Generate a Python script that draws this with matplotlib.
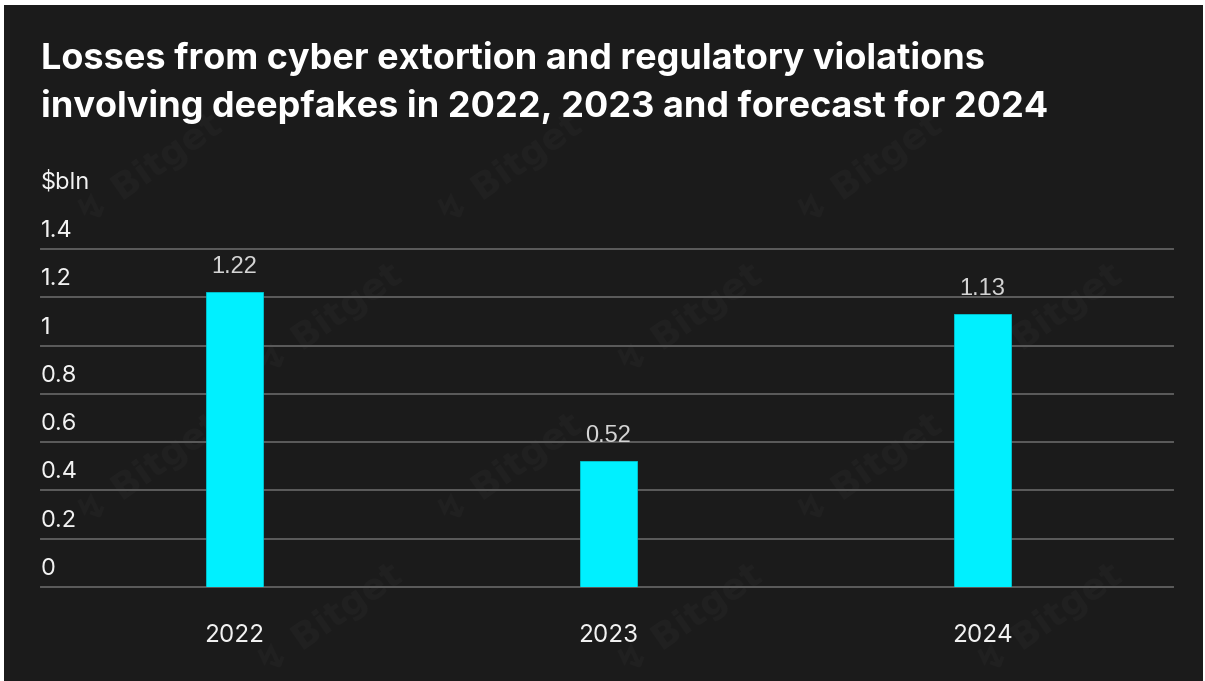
import matplotlib
matplotlib.use("Agg")
import matplotlib.pyplot as plt
from matplotlib.transforms import offset_copy

# Chart data
years = ["2022", "2023", "2024"]
losses_bln = [1.22, 0.52, 1.13]
value_labels = ["1.22", "0.52", "1.13"]
y_ticks = [0, 0.2, 0.4, 0.6, 0.8, 1.0, 1.2, 1.4]
y_tick_labels = ["0", "0.2", "0.4", "0.6", "0.8", "1", "1.2", "1.4"]
unit_label = "$bln"
title_lines = [
    "Losses from cyber extortion and regulatory violations",
    "involving deepfakes in 2022, 2023 and forecast for 2024",
]

BG = "#1b1b1b"
GRID = "#5c5c5c"
BAR = "#00f0ff"
FONT = "Inter"

W, H = 1205, 681
fig = plt.figure(figsize=(W / 100, H / 100), dpi=100, facecolor="white")

# dark panel inside a thin light frame, carrying a faint tiled watermark
panel = fig.add_axes([4 / W, 0, (1203 - 4) / W, (H - 5) / H])
panel.set_facecolor(BG)
panel.set_xlim(4, 1203)
panel.set_ylim(681, 5)
panel.set_xticks([])
panel.set_yticks([])
for s in panel.spines.values():
    s.set_visible(False)
for row, y in enumerate(range(170, 640, 150)):
    shift = 0 if row % 2 == 0 else 180
    for x in range(150 + shift, 1100, 360):
        panel.text(x, y, "\u21af Bitget", fontsize=26, fontweight="bold",
                   family=["DejaVu Sans"], color="#212121", rotation=35,
                   ha="center", va="center")

left_px, right_px, bottom_px, top_px = 41, 1173, 587, 249
ax = fig.add_axes([left_px / W, (H - bottom_px) / H,
                   (right_px - left_px) / W, (bottom_px - top_px) / H])
ax.set_facecolor("none")

x = list(range(len(years)))
ax.bar(x, losses_bln, width=0.152, color=BAR, edgecolor="#00c8d4",
       linewidth=0.6, zorder=3)

ax.set_xlim(-0.517, 2.509)
ax.set_ylim(0, 1.4)

for v in y_ticks:
    ax.axhline(v, color=GRID, linewidth=1.4, zorder=1, clip_on=False)

for s in ax.spines.values():
    s.set_visible(False)
ax.set_xticks([])
ax.set_yticks([])

# y tick labels sit above their gridlines, left aligned
ytr = offset_copy(ax.get_yaxis_transform(), fig=fig, x=0, y=7, units="dots")
for v, lab in zip(y_ticks, y_tick_labels):
    ax.text(0, v, lab, transform=ytr, ha="left", va="bottom",
            fontsize=17, family=FONT, color="#f2f2f2")

# category labels under the baseline
xtr = offset_copy(ax.get_xaxis_transform(), fig=fig, x=0, y=-48, units="dots")
for xi, lab in zip(x, years):
    ax.text(xi, 0, lab, transform=xtr, ha="center", va="center",
            fontsize=17.5, family=FONT, color="#f2f2f2")

# value labels above each bar
vtr = offset_copy(ax.transData, fig=fig, x=0, y=14, units="dots")
for xi, v, lab in zip(x, losses_bln, value_labels):
    ax.text(xi, v, lab, transform=vtr, ha="center", va="bottom",
            fontsize=17, family="Liberation Sans", color="#d4d4d4")

fig.text(left_px / W, 1 - 182 / H, unit_label, ha="left", va="center",
         fontsize=17, family=FONT, color="#f2f2f2")

for i, line in enumerate(title_lines):
    fig.text(41 / W, 1 - (58 + 48 * i) / H, line, ha="left", va="center",
             fontsize=26, family=FONT, fontweight="bold", color="white")

fig.savefig("out.png", dpi=100, facecolor=fig.get_facecolor())
